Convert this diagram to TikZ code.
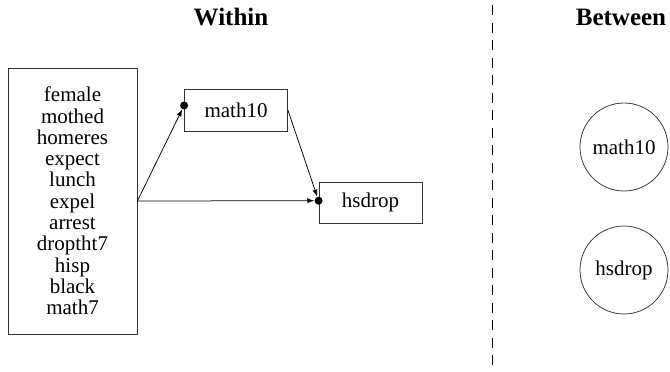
\documentclass[tikz,border=0pt]{standalone}
\usepackage{fontspec}
\setmainfont{Liberation Serif}
\usepackage{tikz}
\usetikzlibrary{shapes.geometric,arrows.meta}

\begin{document}
\begin{tikzpicture}[x=1pt,y=-1pt,line width=0.75pt,
	box/.style={draw=black!80,rectangle,inner sep=0pt,font=\fontsize{21}{21.3}\selectfont},
	latent/.style={draw=black!80,circle,inner sep=0pt,minimum size=88pt,font=\fontsize{21}{21.3}\selectfont},
	title/.style={font=\fontsize{25}{30}\selectfont\bfseries},
	dot/.style={fill,circle,inner sep=0pt,minimum size=8pt}]
\useasboundingbox (0,0) rectangle (670,372);

%titles and the divider
\node[title] (within) at (231,17) {Within};
\node[title] (between) at (621,17) {Between};
\draw[dash pattern=on 10pt off 7.5pt] (492,5) -- (492,372);

%observed variables on the left
\node[box,align=center,minimum width=129pt,minimum height=266pt] (cov) at (72.5,201) {female\\mothed\\homeres\\expect\\lunch\\expel\\arrest\\droptht7\\hisp\\black\\math7};
\node[box,minimum width=103pt,minimum height=42pt] (math10) at (236,110) {math10};
\node[box,minimum width=103pt,minimum height=41pt] (hsdrop) at (370.5,202.5) {hsdrop};

%connection points
\node[dot] (pm) at (math10.175) {};
\node[dot] (ph) at (hsdrop.178) {};

\draw[-{Latex[length=7pt,width=5pt]}] (cov.east) -- (pm);
\draw[-{Latex[length=7pt,width=5pt]}] (cov.east) -- (ph);
\draw[-{Latex[length=7pt,width=5pt]}] (math10.east) -- (ph);

%latent variables on the right
\foreach \y/\v in {147/math10,270/hsdrop}{
	\node[latent] (b\v) at (624,\y) {\v};
}
\end{tikzpicture}
\end{document}
